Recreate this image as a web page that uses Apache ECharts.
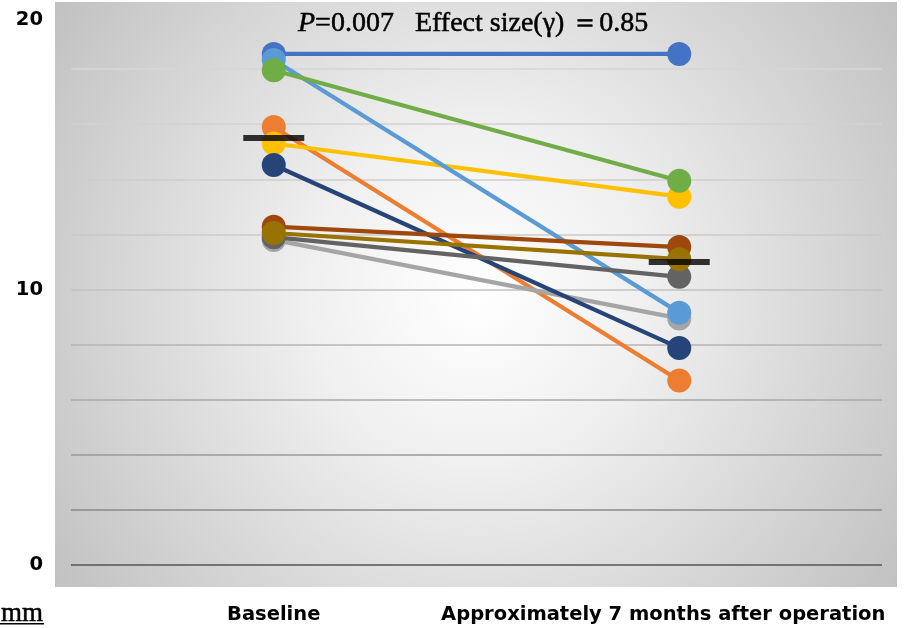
<!DOCTYPE html>
<html>
<head>
<meta charset="utf-8">
<script src="https://cdn.jsdelivr.net/npm/echarts@6/dist/echarts.min.js"></script>
<style>html,body{margin:0;padding:0;background:#fff}#c{width:904px;height:628px}</style>
</head>
<body>
<div id="c"></div>
<script>
const categories = ['Baseline', 'Approximately 7 months after operation'];
const yTicks = [0, 10, 20];
const seriesColors = ['#4472C4', '#ED7D31', '#A5A5A5', '#FFC000', '#5B9BD5', '#70AD47', '#264478', '#9E480E', '#636363', '#997300'];
const s1 = [18.55, 18.55];
const s2 = [15.9, 6.7];
const s3 = [11.8, 8.95];
const s4 = [15.3, 13.37];
const s5 = [18.33, 9.16];
const s6 = [17.96, 13.95];
const s7 = [14.52, 7.88];
const s8 = [12.28, 11.54];
const s9 = [11.9, 10.46];
const s10 = [12.05, 11.1];
const subjects = [s1, s2, s3, s4, s5, s6, s7, s8, s9, s10];
const groupMarkers = [15.5, 11.0];
const titleText = '{i|P}=0.007   Effect size(γ) ＝0.85';
const unitText = 'mm';

const chart = echarts.init(document.getElementById('c'), null, {renderer: 'canvas'});

const series = subjects.map((d, i) => ({
  type: 'line',
  data: d,
  symbol: 'circle',
  symbolSize: 24,
  showSymbol: true,
  color: seriesColors[i],
  lineStyle: {width: 4.2, color: seriesColors[i]},
  itemStyle: {color: seriesColors[i]},
  z: 2 + i * 0.01,
  animation: false
}));
series.push({
  type: 'scatter',
  data: groupMarkers,
  symbol: 'rect',
  symbolSize: [61, 6],
  itemStyle: {color: '#000'},
  z: 10,
  animation: false
});

const gridColors = ['#555555', '#8a8a8a', '#9a9a9a', '#a8a8a8', '#b4b4b4', '#c2c2c2', '#cacaca', '#cecece', '#d2d2d2', '#d6d6d6', 'rgba(0,0,0,0)'];

chart.setOption({
  animation: false,
  backgroundColor: '#fff',
  title: {
    text: titleText,
    left: 293,
    top: 5,
    textStyle: {
      fontFamily: 'Liberation Serif',
      fontSize: 28,
      fontWeight: 'normal',
      color: '#000',
      textBorderColor: '#000',
      textBorderWidth: 0.5,
      rich: {i: {fontFamily: 'Liberation Serif', fontSize: 28, fontStyle: 'italic', color: '#000', textBorderColor: '#000', textBorderWidth: 0.5}}
    }
  },
  graphic: [
    {
      type: 'rect', z: -10, silent: true,
      shape: {x: 55, y: 2, width: 842, height: 585},
      style: {
        fill: {
          type: 'radial', x: 0.5, y: 0.5, r: 0.95,
          colorStops: [{offset: 0, color: '#ffffff'}, {offset: 0.3, color: '#f0f0f0'}, {offset: 1, color: '#bbbbbb'}]
        }
      }
    },
    {
      type: 'text', z: 5,
      style: {text: unitText, x: 43, y: 614, align: 'right', verticalAlign: 'middle', font: '27px "Liberation Serif"', fill: '#000', stroke: '#000', lineWidth: 0.5}
    },
    {
      type: 'rect', z: 5, left: 0, top: 623,
      shape: {width: 44, height: 1.5},
      style: {fill: '#000'}
    }
  ],
  grid: {left: 71, right: 22, top: 14, bottom: 63, outerBoundsMode: 'none', containLabel: false},
  xAxis: {
    type: 'category',
    data: categories,
    boundaryGap: true,
    axisLine: {show: false},
    axisTick: {show: false},
    axisLabel: {
      margin: 40,
      fontFamily: 'DejaVu Sans',
      fontWeight: 'bold',
      fontSize: 19.5,
      color: '#000',
      interval: 0,
      formatter: (v, idx) => idx === 1 ? '{s|' + v + '}' : v,
      rich: {s: {fontFamily: 'DejaVu Sans', fontWeight: 'bold', fontSize: 19.5, color: '#000', padding: [0, 32, 0, 0]}}
    },
    splitLine: {show: false}
  },
  yAxis: {
    type: 'value',
    min: 0, max: 20, interval: 2,
    axisLine: {show: false},
    axisTick: {show: false},
    axisLabel: {
      margin: 28,
      fontFamily: 'DejaVu Sans',
      fontWeight: 'bold',
      fontSize: 19.5,
      color: '#000',
      formatter: v => v === 20 ? '{t|20}' : (yTicks.includes(v) ? String(v) : ''),
      rich: {t: {fontFamily: 'DejaVu Sans', fontWeight: 'bold', fontSize: 19.5, color: '#000', padding: [12, 0, 0, 0]}}
    },
    splitLine: {show: true, lineStyle: {color: gridColors, width: 1.5}}
  },
  series: series
});
</script>
</body>
</html>
